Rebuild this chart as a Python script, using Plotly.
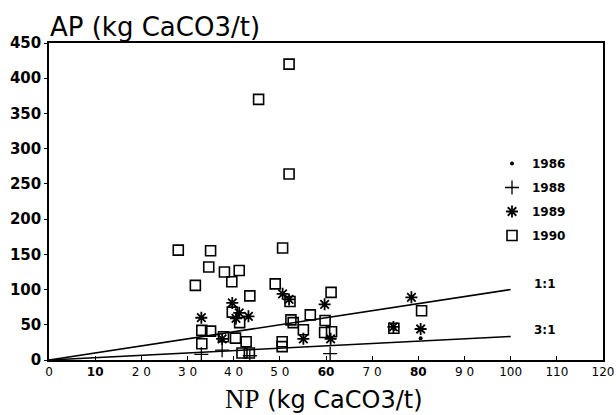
import plotly.graph_objects as go

# ---- data ----
np_1986 = [74.8, 80.5]
ap_1986 = [44, 31]

np_1988 = [33.0, 37.5, 43.5, 60.9]
ap_1988 = [8, 14, 6, 9]

np_1989 = [33.0, 39.7, 41.2, 40.5, 43.2, 37.5, 50.6, 52.0, 55.1, 59.7, 78.5, 74.6, 80.5, 61.0]
ap_1989 = [60, 81, 67, 59, 62, 30, 94, 86, 30, 79, 89, 47, 44, 30]

np_1990 = [52.0, 45.4, 52.0, 28.0, 35.0, 34.6, 31.7, 38.0, 41.2, 39.6, 43.5, 50.6, 49.0,
           52.2, 39.7, 41.3, 33.1, 35.0, 33.1, 37.8, 40.4, 42.7, 43.4, 41.8, 50.5, 50.5,
           52.4, 52.9, 55.1, 56.6, 59.8, 59.7, 61.2, 61.1, 74.7, 80.7]
ap_1990 = [420, 370, 264, 156, 155, 132, 106, 125, 127, 111, 91, 159, 108,
           83, 68, 53, 42, 41, 23, 33, 31, 26, 10, 10, 26, 19,
           57, 53, 43, 64, 56, 39, 40, 96, 45, 70]

ratio_x = [0, 100]
ratio_11 = [0, 100]
ratio_31 = [0, 100 / 3]
ratio_labels = ["1:1", "3:1"]
ratio_label_y = [108, 42]

x_tickvals = [0, 10, 20, 30, 40, 50, 60, 70, 80, 90, 100, 110, 120]
x_ticktext = ["0", "<b>10</b>", "2 0", "3 0", "4 0", "5 0", "<b>60</b>", "7 0", "<b>80</b>",
              "9 0", "100", "110", "120"]
y_tickvals = [0, 50, 100, 150, 200, 250, 300, 350, 400, 450]

W, H = 616, 415
ML, MR, MT, MB = 49, 13, 43, 55
PW = W - ML - MR  # 554
PH = H - MT - MB  # 317

fig = go.Figure()

fig.add_trace(go.Scatter(x=ratio_x, y=ratio_11, mode="lines", line=dict(color="black", width=1.6),
                         showlegend=False, hoverinfo="skip"))
fig.add_trace(go.Scatter(x=ratio_x, y=ratio_31, mode="lines", line=dict(color="black", width=1.6),
                         showlegend=False, hoverinfo="skip"))

fig.add_trace(go.Scatter(x=np_1986, y=ap_1986, mode="markers", name="1986", legendgroup="a",
                         marker=dict(symbol="circle", size=4, color="black")))
fig.add_trace(go.Scatter(x=np_1988, y=ap_1988, mode="markers", name="1988", legendgroup="b",
                         marker=dict(symbol="cross-thin-open", size=10, color="black",
                                     line=dict(color="black", width=1.3))))
fig.add_trace(go.Scatter(x=np_1989, y=ap_1989, mode="markers", name="1989", legendgroup="c",
                         marker=dict(symbol="asterisk-open", size=10, color="black",
                                     line=dict(color="black", width=1.8))))
fig.add_trace(go.Scatter(x=np_1990, y=ap_1990, mode="markers", name="1990", legendgroup="d",
                         marker=dict(symbol="square-open", size=10, color="black",
                                     line=dict(color="black", width=1.6))))

for lab, yv in zip(ratio_labels, ratio_label_y):
    fig.add_annotation(x=107.5, y=yv, text=lab, showarrow=False,
                       font=dict(family="DejaVu Sans", size=12, color="black", weight="bold"))

fig.add_annotation(xref="paper", yref="paper", x=-1 / PW, y=1.0, xanchor="left", yanchor="bottom",
                   yshift=-1, text="AP (kg CaCO3/t)", showarrow=False,
                   font=dict(family="DejaVu Sans", size=26, color="black"))

fig.add_annotation(xref="paper", yref="paper", x=(324 - 49) / PW, y=0, xanchor="center",
                   yanchor="top", yshift=-22,
                   text="<span style=\"font-family:'Liberation Serif';font-size:27px\">NP</span> "
                        "<span style=\"font-family:'DejaVu Sans';font-size:24px\">(kg CaCO3/t)</span>",
                   showarrow=False, font=dict(family="DejaVu Sans", size=24, color="black"))

fig.update_xaxes(range=[0, 120], tickvals=x_tickvals, ticktext=x_ticktext, ticks="inside",
                 ticklen=4, tickcolor="black", showline=True, linecolor="black", linewidth=1.5,
                 mirror=True, showgrid=False, zeroline=False, automargin=False,
                 ticklabeloverflow="allow",
                 tickfont=dict(family="DejaVu Sans", size=12, color="black"))
fig.update_yaxes(range=[0, 450], tickvals=y_tickvals, ticks="outside", ticklen=3,
                 tickcolor="black", showline=True, linecolor="black", linewidth=1.5,
                 mirror=True, showgrid=False, zeroline=False, automargin=False,
                 ticklabeloverflow="allow",
                 tickfont=dict(family="DejaVu Sans", size=15, color="black", weight="bold"))

fig.update_layout(
    width=W, height=H,
    margin=dict(l=ML, r=MR, t=MT, b=MB, autoexpand=False),
    plot_bgcolor="white", paper_bgcolor="white",
    legend=dict(x=(492 - 49) / PW, y=(360 - 149) / PH, xanchor="left", yanchor="top",
                bgcolor="rgba(0,0,0,0)", tracegroupgap=5,
                font=dict(family="DejaVu Sans", size=12, color="black", weight="bold")),
    showlegend=True,
)

fig.write_html("out.html", config={"displayModeBar": False},
               post_script="document.body.style.margin='0px';document.body.style.overflow='hidden';")
